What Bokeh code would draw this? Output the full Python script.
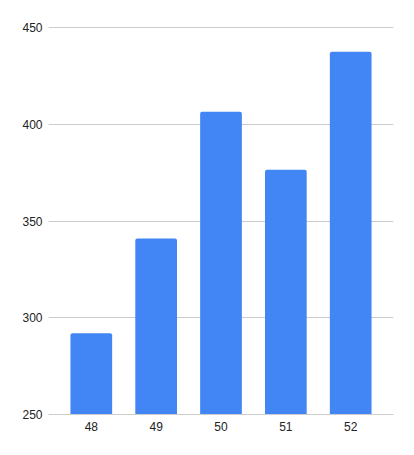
from bokeh.plotting import figure
from bokeh.models import Range1d, FixedTicker, ColumnDataSource
from bokeh.embed import file_html
from bokeh.resources import INLINE

categories = [48, 49, 50, 51, 52]
values = [292, 341, 406.5, 376.5, 437.5]
y_ticks = [250, 300, 350, 400, 450]

source = ColumnDataSource(data=dict(x=categories, top=values))

p = figure(width=414, height=455, output_backend="svg", toolbar_location=None,
           x_range=Range1d(47.34, 52.66), y_range=Range1d(250, 450.52),
           min_border_left=48, min_border_right=21, min_border_top=26, min_border_bottom=41)
p.frame_width = 345
p.frame_height = 388
p.outline_line_color = None
p.background_fill_color = "white"
p.border_fill_color = "white"

p.vbar(x="x", top="top", bottom=250, width=0.643, source=source,
       fill_color="#4285F4", line_color=None, border_radius=[2, 2, 0, 0])

p.xgrid.grid_line_color = None
p.ygrid.grid_line_color = "#cccccc"
p.ygrid.grid_line_width = 1
p.ygrid.ticker = FixedTicker(ticks=y_ticks)

p.yaxis.ticker = FixedTicker(ticks=y_ticks)
p.xaxis.ticker = FixedTicker(ticks=categories)
for ax in (p.xaxis, p.yaxis):
    ax.major_tick_line_color = None
    ax.minor_tick_line_color = None
    ax.major_tick_out = 0
    ax.major_tick_in = 0
    ax.minor_tick_out = 0
    ax.minor_tick_in = 0
    ax.major_label_text_font = "Liberation Sans"
    ax.major_label_text_font_size = "12px"
    ax.major_label_text_color = "#222222"
p.yaxis.axis_line_color = None
p.xaxis.axis_line_color = "#cccccc"
p.yaxis.major_label_standoff = 6
p.xaxis.major_label_standoff = 7

open("out.html", "w").write(file_html(p, INLINE))
